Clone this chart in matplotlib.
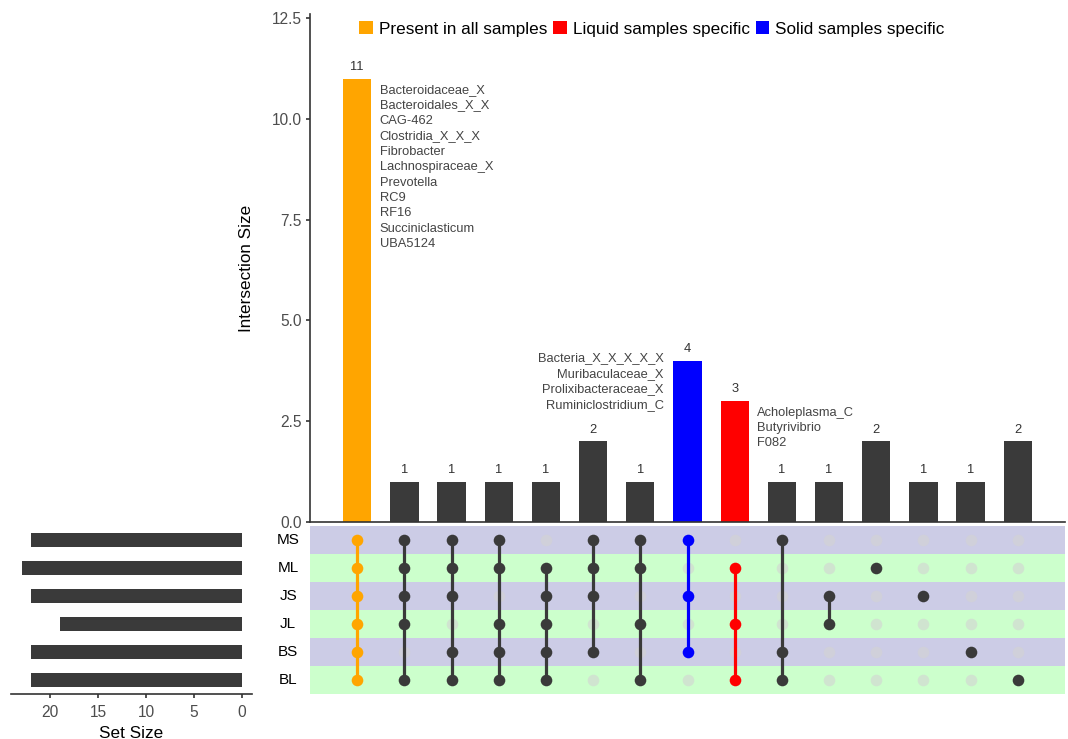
import matplotlib
matplotlib.use("Agg")
import matplotlib.pyplot as plt
from matplotlib.patches import Patch

plt.rcParams['font.family'] = ['Liberation Sans', 'DejaVu Sans']

# ---- data ----
sets = ['MS', 'ML', 'JS', 'JL', 'BS', 'BL']
set_sizes = [22, 23, 22, 19, 22, 22]

# membership of every intersection column (left to right)
memberships = [
    ['MS', 'ML', 'JS', 'JL', 'BS', 'BL'],
    ['MS', 'ML', 'JS', 'JL', 'BL'],
    ['MS', 'ML', 'JS', 'BS', 'BL'],
    ['MS', 'ML', 'JL', 'BS', 'BL'],
    ['ML', 'JS', 'JL', 'BS', 'BL'],
    ['MS', 'ML', 'JS', 'BS'],
    ['MS', 'ML', 'JL', 'BL'],
    ['MS', 'JS', 'BS'],
    ['ML', 'JL', 'BL'],
    ['MS', 'BS', 'BL'],
    ['JS', 'JL'],
    ['ML'],
    ['JS'],
    ['BS'],
    ['BL'],
]
intersection_sizes = [11, 1, 1, 1, 1, 2, 1, 4, 3, 1, 1, 2, 1, 1, 2]
groups = ['all', None, None, None, None, None, None, 'solid', 'liquid',
          None, None, None, None, None, None]

group_labels = {'all': 'Present in all samples',
                'liquid': 'Liquid samples specific',
                'solid': 'Solid samples specific'}
group_colors = {'all': '#FFA500', 'liquid': '#FF0000', 'solid': '#0000FF'}
default_color = '#3A3A3A'

all_names = ['Bacteroidaceae_X', 'Bacteroidales_X_X', 'CAG-462', 'Clostridia_X_X_X',
             'Fibrobacter', 'Lachnospiraceae_X', 'Prevotella', 'RC9', 'RF16',
             'Succiniclasticum', 'UBA5124']
solid_names = ['Bacteria_X_X_X_X_X', 'Muribaculaceae_X', 'Prolixibacteraceae_X',
               'Ruminiclostridium_C']
liquid_names = ['Acholeplasma_C', 'Butyrivibrio', 'F082']

# ---- layout ----
W, H = 1068, 739
fig = plt.figure(figsize=(W / 100, H / 100), dpi=100)


def px_axes(x0, y0, x1, y1):
    return fig.add_axes([x0 / W, 1 - y1 / H, (x1 - x0) / W, (y1 - y0) / H])


n = len(intersection_sizes)
xs = list(range(n))
colors = [group_colors[g] if g else default_color for g in groups]
tick_grey = '#4D4D4D'
spine_col = '#333333'

# ---- intersection bar chart ----
ax_bar = px_axes(310, 14, 1065, 522)
ax_bar.bar(xs, intersection_sizes, width=0.6, color=colors)
ax_bar.set_xlim(-1, n)
ax_bar.set_ylim(0, 12.6)
ax_bar.set_yticks([0, 2.5, 5, 7.5, 10, 12.5])
ax_bar.set_yticklabels(['0.0', '2.5', '5.0', '7.5', '10.0', '12.5'])
ax_bar.set_xticks([])
ax_bar.tick_params(axis='y', length=3, width=1.2, color=spine_col,
                   labelsize=11.2, labelcolor=tick_grey, pad=3)
for s in ['top', 'right']:
    ax_bar.spines[s].set_visible(False)
for s in ['left', 'bottom']:
    ax_bar.spines[s].set_color(spine_col)
    ax_bar.spines[s].set_linewidth(1.2)
ax_bar.set_ylabel('Intersection Size', fontsize=12.3, labelpad=13)

for x, v in zip(xs, intersection_sizes):
    ax_bar.annotate(str(v), (x, v), xytext=(0, 4), textcoords='offset points',
                    ha='center', va='bottom', fontsize=9.3, color='#333333')

name_style = dict(fontsize=9.3, color='#444444', linespacing=1.38,
                  textcoords='offset points')
ax_bar.annotate('\n'.join(all_names), (0.3, intersection_sizes[0]),
                xytext=(6, -4), ha='left', va='top', **name_style)
ax_bar.annotate('\n'.join(solid_names), (7 - 0.3, intersection_sizes[7]),
                xytext=(-7, 6), ha='right', va='top', multialignment='right',
                **name_style)
ax_bar.annotate('\n'.join(liquid_names), (8 + 0.3, intersection_sizes[8]),
                xytext=(6, -4), ha='left', va='top', **name_style)

# ---- membership matrix ----
ax_mat = px_axes(310, 526, 1065, 694)
ax_mat.set_xlim(-1, n)
ax_mat.set_ylim(len(sets) - 0.5, -0.5)
band_cols = ['#CCCCE6', '#CCFFCC']
for i in range(len(sets)):
    ax_mat.axhspan(i - 0.5, i + 0.5, color=band_cols[i % 2], lw=0, zorder=0)
ax_mat.axis('off')

for x, mem, col in zip(xs, memberships, colors):
    rows = [sets.index(s) for s in mem]
    inactive = [i for i in range(len(sets)) if i not in rows]
    ax_mat.scatter([x] * len(inactive), inactive, s=70, color='#D3D3D3',
                   alpha=0.6, lw=0, zorder=2)
    if len(rows) > 1:
        ax_mat.plot([x, x], [min(rows), max(rows)], color=col, lw=2.3, zorder=3)
    ax_mat.scatter([x] * len(rows), rows, s=70, color=col, lw=0, zorder=4)

for i, s in enumerate(sets):
    ax_mat.text(-0.029, i, s, transform=ax_mat.get_yaxis_transform(),
                ha='center', va='center', fontsize=11, color='black')

# ---- set size bars ----
ax_set = px_axes(11, 526, 252, 694)
ax_set.barh(range(len(sets)), set_sizes, height=0.48, color=default_color)
ax_set.set_ylim(len(sets) - 0.5, -0.5)
ax_set.set_xlim(24.1, -1.05)
ax_set.set_xticks([20, 15, 10, 5, 0])
ax_set.set_yticks([])
ax_set.tick_params(axis='x', length=3, width=1.2, color=spine_col,
                   labelsize=11.2, labelcolor=tick_grey, pad=5)
for s in ['top', 'right', 'left']:
    ax_set.spines[s].set_visible(False)
ax_set.spines['bottom'].set_color(spine_col)
ax_set.spines['bottom'].set_linewidth(1.2)
ax_set.set_xlabel('Set Size', fontsize=12.3, labelpad=4)

# ---- legend ----
handles = [Patch(facecolor=group_colors[k], edgecolor='none', label=group_labels[k])
           for k in ['all', 'liquid', 'solid']]
fig.legend(handles=handles, loc='center', bbox_to_anchor=(652 / W, 1 - 29 / H),
           ncol=3, frameon=False, fontsize=12.3, handlelength=0.8,
           handleheight=0.8, handletextpad=0.35, columnspacing=0.35)

fig.savefig('out.png', dpi=100)
